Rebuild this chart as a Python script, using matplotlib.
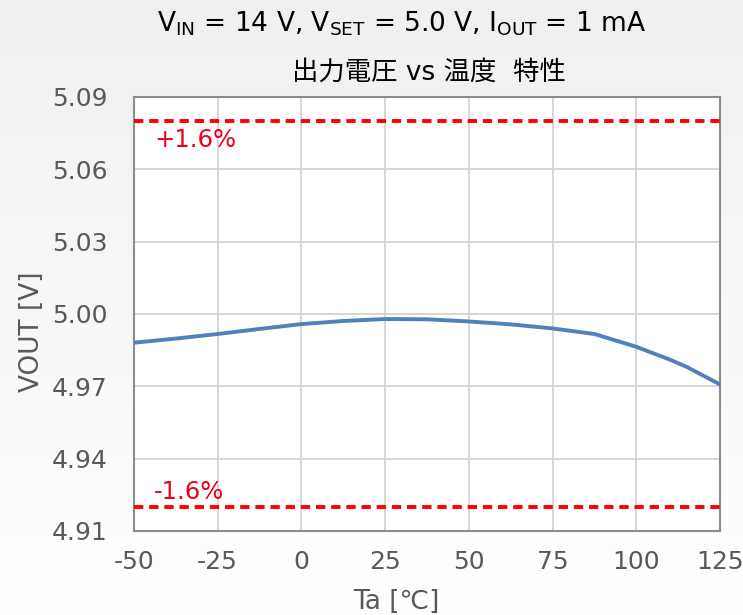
import numpy as np
import matplotlib.pyplot as plt

plt.rcParams['font.family'] = ['DejaVu Sans', 'Noto Sans CJK JP']
plt.rcParams['mathtext.default'] = 'regular'
plt.rcParams['axes.unicode_minus'] = False

ta = [-50, -37.5, -25, -12.5, 0, 12.5, 25, 37.5, 50, 62.5, 75, 87.5, 100, 110, 115, 125]
vout = [4.9881, 4.9898, 4.9917, 4.9938, 4.9958, 4.9971, 4.9979, 4.9978, 4.9969, 4.9957, 4.9940, 4.9917,
        4.9864, 4.9811, 4.9781, 4.9708]
v_hi = 5.08
v_lo = 4.92
xticks = [-50, -25, 0, 25, 50, 75, 100, 125]
yticks = [4.91, 4.94, 4.97, 5.00, 5.03, 5.06, 5.09]

fig = plt.figure(figsize=(7.43, 6.15), dpi=100)

# light grey -> white background gradient
bg = fig.add_axes([0, 0, 1, 1], zorder=-10)
grad = np.linspace(0.94, 1.0, 256).reshape(-1, 1)
bg.imshow(np.dstack([grad, grad, grad]), aspect='auto', extent=[0, 1, 0, 1], origin='upper')
bg.axis('off')

ax = fig.add_axes([0.1803, 0.1366, 0.7887, 0.7057])
ax.set_facecolor('white')
ax.plot(ta, vout, color='#4f81bd', linewidth=2.8, solid_capstyle='round', zorder=3)
ax.axhline(v_hi, color='#ff0000', linewidth=2.8, linestyle=(0, (2.4, 1.5)), zorder=4)
ax.axhline(v_lo, color='#ff0000', linewidth=2.8, linestyle=(0, (2.4, 1.5)), zorder=4)
ax.text(-44, 5.0722, '+1.6%', color='#e8001c', fontsize=17.5, va='center')
ax.text(-44, 4.9262, '-1.6%', color='#e8001c', fontsize=17.5, va='center')

ax.set_xlim(-50, 125)
ax.set_ylim(4.91, 5.09)
ax.set_xticks(xticks)
ax.set_yticks(yticks)
ax.set_yticklabels(['%.2f' % v for v in yticks])
ax.grid(color='#d0d0d0', linewidth=1.2)
ax.set_axisbelow(True)
for s in ax.spines.values():
    s.set_color('#8c8c8c')
    s.set_linewidth(1.5)
ax.tick_params(length=0, labelsize=18, labelcolor='#595959')
ax.tick_params(axis='x', pad=14)
ax.tick_params(axis='y', pad=19)
ax.set_xlabel('Ta [℃]', fontsize=19, color='#595959')
ax.set_ylabel('VOUT [V]', fontsize=19, color='#595959')
ax.xaxis.set_label_coords(0.447, -0.133)
ax.yaxis.set_label_coords(-0.152, 0.46)

fig.text(0.54, 0.962, r'$V_{IN}$ = 14 V, $V_{SET}$ = 5.0 V, $I_{OUT}$ = 1 mA',
         ha='center', va='center', fontsize=19, color='#000000')
fig.text(0.577, 0.882, '出力電圧 vs 温度  特性', ha='center', va='center', fontsize=19, color='#000000')

fig.savefig('out.png', dpi=100)
